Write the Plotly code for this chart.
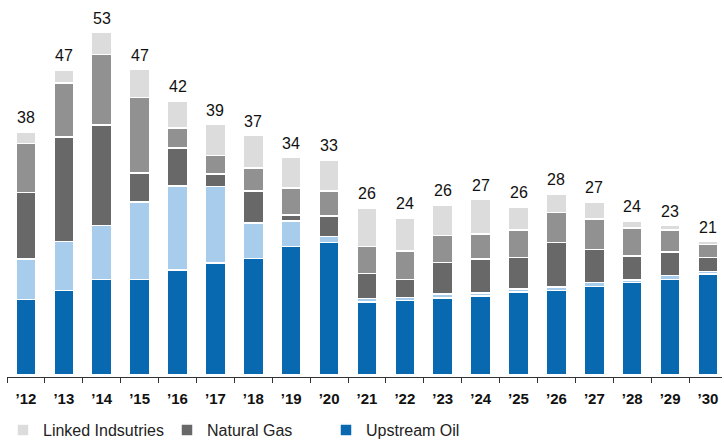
import plotly.graph_objects as go

years = ["’12", "’13", "’14", "’15", "’16", "’17", "’18", "’19", "’20", "’21",
         "’22", "’23", "’24", "’25", "’26", "’27", "’28", "’29", "’30"]

upstream_oil = [11.7, 13.1, 14.8, 14.8, 16.2, 17.3, 18.0, 19.9, 20.5, 11.3,
                11.5, 11.9, 12.2, 12.8, 13.1, 13.7, 14.3, 14.8, 15.6]
upstream_oil_other = [6.2, 7.5, 8.3, 11.9, 13.0, 11.8, 5.5, 3.9, 0.9, 0.5,
                      0.5, 0.6, 0.5, 0.5, 0.5, 0.6, 0.4, 0.6, 0.4]
natural_gas = [10.3, 16.2, 15.5, 4.5, 5.9, 2.0, 4.9, 0.9, 3.2, 3.9,
               2.8, 4.9, 5.2, 4.9, 6.9, 5.1, 3.7, 3.6, 2.2]
natural_gas_other = [7.6, 8.3, 10.9, 11.7, 3.1, 2.8, 3.6, 4.2, 3.8, 4.2,
                     4.4, 4.2, 3.9, 4.2, 4.6, 4.7, 4.3, 3.4, 2.0]
linked_industries = [1.7, 2.0, 3.4, 4.3, 4.1, 4.8, 5.0, 4.7, 4.8, 5.9,
                     5.1, 4.6, 5.3, 3.6, 2.8, 2.6, 1.1, 0.7, 0.4]
total_labels = [38, 47, 53, 47, 42, 39, 37, 34, 33, 26, 24, 26, 27, 26, 28, 27, 24, 23, 21]

BLUE = "#0869B0"
LIGHT_BLUE = "#A7CCEC"
DARK_GRAY = "#686868"
MID_GRAY = "#919191"
LIGHT_GRAY = "#DCDCDC"

FONT = "Liberation Sans, Arial, sans-serif"

fig = go.Figure()

series = [
    ("Upstream Oil", upstream_oil, BLUE, True, "legend3"),
    ("Upstream Oil (other)", upstream_oil_other, LIGHT_BLUE, False, "legend3"),
    ("Natural Gas", natural_gas, DARK_GRAY, True, "legend2"),
    ("Natural Gas (other)", natural_gas_other, MID_GRAY, False, "legend2"),
    ("Linked Indsutries", linked_industries, LIGHT_GRAY, True, "legend"),
]
for name, vals, color, show, leg in series:
    fig.add_trace(go.Bar(
        x=years, y=vals, name=name, showlegend=show, legend=leg,
        marker=dict(color=color, line=dict(color="white", width=1.5)),
    ))

totals = [a + b + c + d + e for a, b, c, d, e in zip(
    upstream_oil, upstream_oil_other, natural_gas, natural_gas_other, linked_industries)]
for yr, tot, lab in zip(years, totals, total_labels):
    fig.add_annotation(x=yr, y=tot, text=str(lab), showarrow=False,
                       yanchor="bottom", yshift=4,
                       font=dict(family=FONT, size=16, color="#111111"))

legend_common = dict(orientation="h", xref="container", yref="container",
                     yanchor="middle", xanchor="left", bgcolor="rgba(0,0,0,0)",
                     font=dict(family=FONT, size=16, color="#222222"))
fig.update_layout(
    barmode="stack",
    bargap=0.47,
    width=724, height=441,
    margin=dict(l=7, r=2, t=10, b=64, autoexpand=False),
    plot_bgcolor="white", paper_bgcolor="white",
    legend=dict(x=3 / 724, y=1 - 430 / 441, **legend_common),
    legend2=dict(x=167 / 724, y=1 - 430 / 441, **legend_common),
    legend3=dict(x=326 / 724, y=1 - 430 / 441, **legend_common),
    xaxis=dict(
        type="category", range=[-0.5, 18.37],
        showline=True, linecolor="#333333", linewidth=1.3,
        ticks="outside", tickson="boundaries", ticklen=5, tickcolor="#333333",
        ticklabelstandoff=8,
        tickfont=dict(family=FONT, size=15, color="#111111", weight="bold"),
        showgrid=False,
    ),
    yaxis=dict(range=[-0.3, 56.4], visible=False, showgrid=False),
)

fig.write_html("out.html", config={"displayModeBar": False},
               post_script="document.body.style.margin='0';")
